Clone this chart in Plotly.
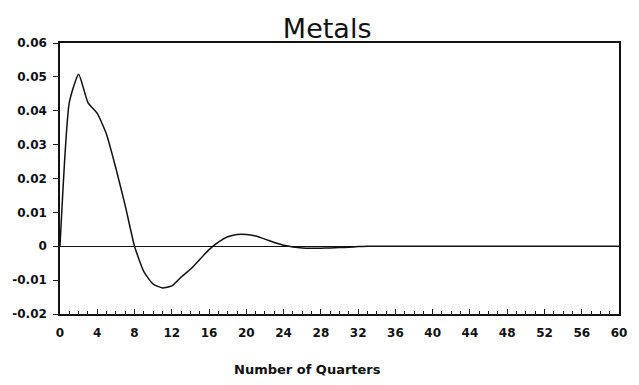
import plotly.graph_objects as go

# Impulse response of metals, by quarter after the shock
quarters = list(range(0, 61))
response = [
    0.0000, 0.0425, 0.0508, 0.0424, 0.0392, 0.0330, 0.0230, 0.0120, 0.0000, -0.0075,
    -0.0112, -0.0123, -0.0117, -0.0091, -0.0068, -0.0039, -0.0010, 0.0012, 0.0028, 0.0035,
    0.0035, 0.0030, 0.0021, 0.0011, 0.0003, -0.0002, -0.0005, -0.0006, -0.0006, -0.0005,
    -0.0004, -0.0003, -0.0001, 0.0000, 0.0000, 0.0000, 0.0000, 0.0000, 0.0000, 0.0000,
    0.0000, 0.0000, 0.0000, 0.0000, 0.0000, 0.0000, 0.0000, 0.0000, 0.0000, 0.0000,
    0.0000, 0.0000, 0.0000, 0.0000, 0.0000, 0.0000, 0.0000, 0.0000, 0.0000, 0.0000,
    0.0000,
]
x_ticks = list(range(0, 61, 4))
y_ticks = [-0.02, -0.01, 0, 0.01, 0.02, 0.03, 0.04, 0.05, 0.06]
y_labels = ["-0.02", "-0.01", "0", "0.01", "0.02", "0.03", "0.04", "0.05", "0.06"]

ink = "#111111"
tick_font = dict(family="DejaVu Sans", size=12, color=ink, weight="bold")

fig = go.Figure()
fig.add_trace(go.Scatter(
    x=quarters, y=response, mode="lines",
    line=dict(color=ink, width=1.5, shape="spline", smoothing=0.5),
    showlegend=False, hoverinfo="skip",
))

fig.update_layout(
    width=639, height=385,
    margin=dict(l=60, r=13, t=43, b=71),
    paper_bgcolor="white", plot_bgcolor="white",
    title=dict(text="Metals", x=0.512, xanchor="center", y=0.925, yanchor="middle",
               font=dict(family="DejaVu Sans", size=27, color=ink)),
    xaxis=dict(
        range=[0, 60], tickvals=x_ticks, ticktext=[str(v) for v in x_ticks],
        ticks="inside", ticklen=5, tickwidth=1, tickcolor=ink,
        minor=dict(dtick=1, ticks="inside", ticklen=3, tickcolor=ink, tickwidth=1),
        showgrid=False, zeroline=False,
        showline=True, linecolor=ink, linewidth=1.5, mirror=True,
        tickfont=tick_font, ticklabelstandoff=7,
    ),
    yaxis=dict(
        range=[-0.02, 0.06], tickvals=y_ticks, ticktext=y_labels,
        ticks="outside", ticklen=5, tickwidth=1, tickcolor=ink,
        showgrid=False, zeroline=True, zerolinecolor=ink, zerolinewidth=1.2,
        showline=True, linecolor=ink, linewidth=1.5, mirror=True,
        tickfont=tick_font, ticklabelstandoff=4,
    ),
    annotations=[dict(
        text="Number of Quarters", xref="paper", yref="paper",
        x=0.4435, y=-0.2066, xanchor="center", yanchor="middle",
        showarrow=False, font=dict(family="DejaVu Sans", size=13, color=ink, weight="bold"),
    )],
)

fig.write_html("out.html")
